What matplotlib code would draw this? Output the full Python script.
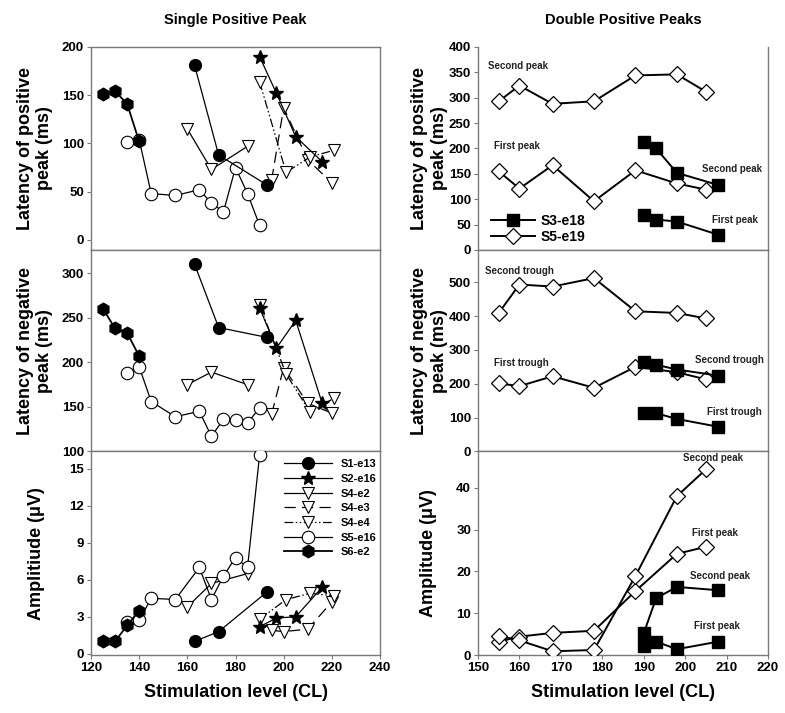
import matplotlib
matplotlib.use('Agg')
import matplotlib.pyplot as plt

plt.rcParams['font.family'] = ['Liberation Sans', 'DejaVu Sans']
plt.rcParams['font.weight'] = 'bold'

# ============================================================
# DATA - single positive peak (left column)
# ============================================================

S1_X = [163, 173, 193]
S1_POS = [181, 88, 57]
S1_NEG = [310, 239, 228]
S1_AMP = [1.0, 1.8, 5.0]

S2_X = [190, 197, 205, 216]
S2_POS = [190, 152, 107, 81]
S2_NEG = [261, 216, 247, 154]
S2_AMP = [2.2, 2.9, 3.0, 5.4]

S4E2_X = [160, 170, 185]
S4E2_POS = [115, 73, 97]
S4E2_NEG = [175, 189, 175]
S4E2_AMP = [3.8, 5.7, 6.5]

S4E3_X = [195, 200, 210, 220]
S4E3_POS = [62, 137, 83, 59]
S4E3_NEG = [142, 194, 154, 143]
S4E3_AMP = [1.9, 1.8, 2.0, 4.2]

S4E4_X = [190, 201, 211, 221]
S4E4_POS = [164, 70, 86, 93]
S4E4_NEG = [264, 187, 144, 160]
S4E4_AMP = [2.8, 4.4, 4.9, 4.7]

S5E16_X = [135, 140, 145, 155, 165, 170, 175, 180, 185, 190]
S5E16_POS = [101, 104, 48, 46, 52, 38, 29, 75, 48, 15]
S5E16_NEG = [188, 195, 156, 139, 145, 117, 136, 135, 132, 149]
S5E16_AMP = [2.6, 2.7, 4.5, 4.4, 7.0, 4.4, 6.3, 7.8, 7.0, 16.1]

S6_X = [125, 130, 135, 140]
S6_POS = [151, 154, 141, 102]
S6_NEG = [260, 238, 233, 207]
S6_AMP = [1.0, 1.0, 2.3, 3.5]

# ============================================================
# DATA - double positive peaks (right column)
# ============================================================

S3_X = [190, 193, 198, 208]
S3_POS1 = [68, 60, 56, 30]
S3_POS2 = [212, 200, 152, 128]
S3_NEG1 = [113, 113, 96, 73]
S3_NEG2 = [263, 256, 242, 224]
S3_AMP1 = [2.2, 3.2, 1.4, 3.2]
S3_AMP2 = [5.2, 13.6, 16.3, 15.5]

S5E19_X = [155, 160, 168, 178, 188, 198, 205]
S5E19_POS1 = [155, 121, 167, 96, 157, 131, 119]
S5E19_POS2 = [293, 324, 288, 293, 344, 346, 312]
S5E19_NEG1 = [201, 193, 222, 188, 250, 234, 213]
S5E19_NEG2 = [409, 493, 487, 512, 414, 409, 393]
S5E19_AMP1 = [3.2, 4.4, 5.3, 5.8, 15.3, 24.2, 25.9]
S5E19_AMP2 = [4.6, 3.5, 0.9, 1.2, 18.9, 38.0, 44.4]

SPINE = "#7a7a7a"

DASH_E3 = (0, (9, 5))
DASH_E4 = (0, (7, 2, 1.2, 2, 1.2, 2))


def style_axes(ax, xlim, xticks, ylim, yticks, show_x):
    ax.set_xlim(*xlim)
    ax.set_ylim(*ylim)
    ax.set_yticks(yticks)
    ax.set_xticks(xticks)
    for sp in ax.spines.values():
        sp.set_edgecolor(SPINE)
        sp.set_linewidth(1.0)
    ax.tick_params(axis='both', direction='out', length=3, width=0.8,
                   color=SPINE, labelsize=9.5, pad=2)
    if not show_x:
        ax.tick_params(axis='x', length=0, labelbottom=False)
    for lab in ax.get_xticklabels() + ax.get_yticklabels():
        lab.set_fontweight('bold')


def plot_left(ax, series):
    (s1, s2, e2, e3, e4, s5, s6) = series
    lw = 0.9
    ax.plot(S4E2_X, e2, color='black', lw=lw, marker='v', ms=9,
            mfc='white', mec='black', mew=0.8, label='S4-e2', zorder=3)
    ax.plot(S4E3_X, e3, color='black', lw=lw, ls=DASH_E3, marker='v', ms=9,
            mfc='white', mec='black', mew=0.8, label='S4-e3', zorder=3)
    ax.plot(S4E4_X, e4, color='black', lw=lw, ls=DASH_E4, marker='v', ms=9,
            mfc='white', mec='black', mew=0.8, label='S4-e4', zorder=3)
    ax.plot(S5E16_X, s5, color='black', lw=lw, marker='o', ms=9,
            mfc='white', mec='black', mew=0.8, label='S5-e16', zorder=4)
    ax.plot(S1_X, s1, color='black', lw=lw, marker='o', ms=8.5,
            mfc='black', mec='black', label='S1-e13', zorder=5)
    ax.plot(S2_X, s2, color='black', lw=lw, marker='*', ms=10.5,
            mfc='black', mec='black', label='S2-e16', zorder=5)
    ax.plot(S6_X, s6, color='black', lw=1.3, marker='h', ms=9,
            mfc='black', mec='black', label='S6-e2', zorder=5)


def plot_right(ax, s3a, s3b, s5a, s5b):
    kw_sq = dict(color='black', lw=1.4, marker='s', ms=8.5, mfc='black', mec='black')
    kw_di = dict(color='black', lw=1.4, marker='D', ms=8, mfc='white',
                 mec='black', mew=0.9)
    ax.plot(S5E19_X, s5a, zorder=3, **kw_di)
    ax.plot(S5E19_X, s5b, zorder=3, **kw_di)
    ax.plot(S3_X, s3a, zorder=4, **kw_sq)
    ax.plot(S3_X, s3b, zorder=4, **kw_sq)


def note(ax, x, y, txt):
    ax.text(x, y, txt, fontsize=7, fontweight='bold', ha='center', va='center',
            color='#222222')


def main():
    fig = plt.figure(figsize=(7.85, 7.13), dpi=100)
    fig.patch.set_facecolor('white')

    lx, lw_ = 91 / 785, 289 / 785
    rx, rw = 478 / 785, 290 / 785
    rows = [(0.6494, 0.2847), (0.3668, 0.2826), (0.0813, 0.2855)]
    lab_fs = 13

    # ---------------- left column ----------------
    axl1 = fig.add_axes([lx, rows[0][0], lw_, rows[0][1]])
    axl2 = fig.add_axes([lx, rows[1][0], lw_, rows[1][1]])
    axl3 = fig.add_axes([lx, rows[2][0], lw_, rows[2][1]])

    plot_left(axl1, (S1_POS, S2_POS, S4E2_POS, S4E3_POS, S4E4_POS, S5E16_POS, S6_POS))
    plot_left(axl2, (S1_NEG, S2_NEG, S4E2_NEG, S4E3_NEG, S4E4_NEG, S5E16_NEG, S6_NEG))
    plot_left(axl3, (S1_AMP, S2_AMP, S4E2_AMP, S4E3_AMP, S4E4_AMP, S5E16_AMP, S6_AMP))

    xt = [120, 140, 160, 180, 200, 220, 240]
    style_axes(axl1, (120, 240), xt, (-10.5, 200), [0, 50, 100, 150, 200], False)
    style_axes(axl2, (120, 240), xt, (100, 326), [100, 150, 200, 250, 300], False)
    style_axes(axl3, (120, 240), xt, (-0.1, 16.4), [0, 3, 6, 9, 12, 15], True)

    handles, labels = axl3.get_legend_handles_labels()
    order = ['S1-e13', 'S2-e16', 'S4-e2', 'S4-e3', 'S4-e4', 'S5-e16', 'S6-e2']
    hmap = dict(zip(labels, handles))
    leg = axl3.legend([hmap[k] for k in order], order, loc='upper left',
                      bbox_to_anchor=(0.64, 1.0), frameon=False, fontsize=8,
                      handlelength=4.3, labelspacing=0.42, handletextpad=0.8,
                      borderpad=0.2)
    for t in leg.get_texts():
        t.set_fontweight('bold')

    axl1.set_ylabel("Latency of positive\npeak (ms)", fontsize=lab_fs, fontweight='bold')
    axl2.set_ylabel("Latency of negative\npeak (ms)", fontsize=lab_fs, fontweight='bold')
    axl3.set_ylabel("Amplitiude (\u03bcV)", fontsize=lab_fs, fontweight='bold')
    axl3.set_xlabel("Stimulation level (CL)", fontsize=lab_fs, fontweight='bold', labelpad=7)
    for ax in (axl1, axl2):
        ax.yaxis.set_label_coords(-0.13, 0.5)
    axl3.yaxis.set_label_coords(-0.16, 0.5)

    # ---------------- right column ----------------
    axr1 = fig.add_axes([rx, rows[0][0], rw, rows[0][1]])
    axr2 = fig.add_axes([rx, rows[1][0], rw, rows[1][1]])
    axr3 = fig.add_axes([rx, rows[2][0], rw, rows[2][1]])

    plot_right(axr1, S3_POS1, S3_POS2, S5E19_POS1, S5E19_POS2)
    plot_right(axr2, S3_NEG1, S3_NEG2, S5E19_NEG1, S5E19_NEG2)
    plot_right(axr3, S3_AMP1, S3_AMP2, S5E19_AMP1, S5E19_AMP2)

    xr = [150, 160, 170, 180, 190, 200, 210, 220]
    style_axes(axr1, (150, 220), xr, (0, 400), list(range(0, 401, 50)), False)
    style_axes(axr2, (150, 220), xr, (0, 595), [0, 100, 200, 300, 400, 500], False)
    style_axes(axr3, (150, 220), xr, (0, 48.7), [0, 10, 20, 30, 40], True)
    axr1.spines['top'].set_visible(False)

    h_sq = plt.Line2D([], [], color='black', lw=1.4, marker='s', ms=8.5,
                      mfc='black', mec='black')
    h_di = plt.Line2D([], [], color='black', lw=1.4, marker='D', ms=8,
                      mfc='white', mec='black', mew=0.9)
    leg2 = axr1.legend([h_sq, h_di], ['S3-e18', 'S5-e19'], loc='lower left',
                       bbox_to_anchor=(0.01, -0.02), frameon=False, fontsize=10,
                       handlelength=3.2, labelspacing=0.15, handletextpad=0.4,
                       borderpad=0.2)
    for t in leg2.get_texts():
        t.set_fontweight('bold')

    note(axr1, 159.7, 362, "Second peak")
    note(axr1, 159.3, 204, "First peak")
    note(axr1, 211.2, 159, "Second peak")
    note(axr1, 212.0, 60, "First peak")

    note(axr2, 160.0, 534, "Second trough")
    note(axr2, 160.4, 261, "First trough")
    note(axr2, 210.7, 269, "Second trough")
    note(axr2, 212.0, 118, "First trough")

    note(axr3, 206.8, 47.2, "Second peak")
    note(axr3, 207.2, 29.3, "First peak")
    note(axr3, 208.4, 18.9, "Second peak")
    note(axr3, 207.6, 6.9, "First peak")

    axr1.set_ylabel("Latency of positive\npeak (ms)", fontsize=lab_fs, fontweight='bold')
    axr2.set_ylabel("Latency of negative\npeak (ms)", fontsize=lab_fs, fontweight='bold')
    axr3.set_ylabel("Amplitude (\u03bcV)", fontsize=lab_fs, fontweight='bold')
    axr3.set_xlabel("Stimulation level (CL)", fontsize=lab_fs, fontweight='bold', labelpad=7)
    for ax in (axr1, axr2):
        ax.yaxis.set_label_coords(-0.105, 0.5)
    axr3.yaxis.set_label_coords(-0.14, 0.5)

    fig.text(235 / 785, 1 - 20 / 713, "Single Positive Peak", ha='center',
             va='center', fontsize=10.5, fontweight='bold')
    fig.text(623 / 785, 1 - 20 / 713, "Double Positive Peaks", ha='center',
             va='center', fontsize=10.5, fontweight='bold')

    fig.savefig("out.png", dpi=100, facecolor='white')
    plt.close(fig)


if __name__ == "__main__":
    main()
